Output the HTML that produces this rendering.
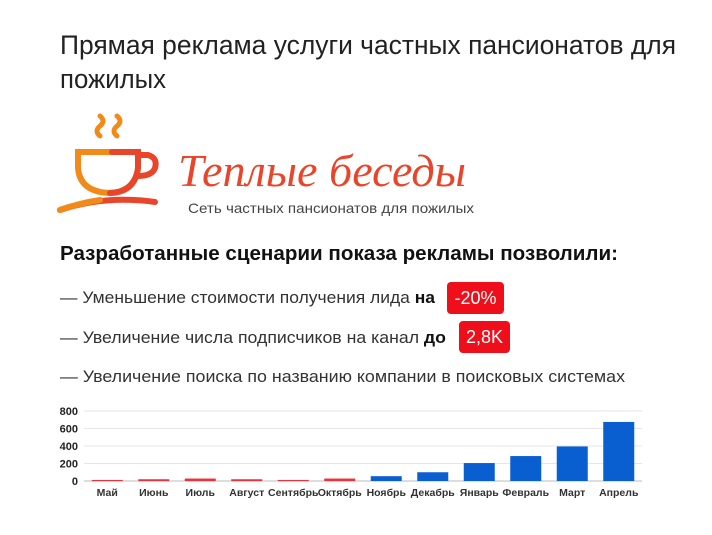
<!DOCTYPE html>
<html><head><meta charset="utf-8"><style>
html,body{margin:0;padding:0;background:#fff;}
svg{display:block;font-family:"Liberation Sans",sans-serif;}
</style></head><body>
<svg width="712" height="535" viewBox="0 0 712 535">
<g fill="#222" font-size="27">
<text x="60" y="54" textLength="616" lengthAdjust="spacingAndGlyphs">Прямая реклама услуги частных пансионатов для</text>
<text x="60" y="88" textLength="106" lengthAdjust="spacingAndGlyphs">пожилых</text>
</g>
<g>
<g fill="none" stroke-linecap="round">
<path d="M100 136 q-6 -5 0 -10 q6 -5 0 -10" stroke="#f28a1a" stroke-width="5"/>
<path d="M117 136 q-6 -5 0 -10 q6 -5 0 -10" stroke="#f28a1a" stroke-width="5"/>
<path d="M78 152 L78 168 Q80 192 110 193 Q135 192 138 168 L138 152 Z" stroke="#f28a1a" stroke-width="6"/>
<path d="M110 193 Q135 192 138 168 L138 152 L112 152" stroke="#e8452a" stroke-width="6"/>
<path d="M138 155 L148 155 Q158 158 155 168 Q152 176 138 176" stroke="#e8452a" stroke-width="6"/>
<path d="M60 210 Q105 195 155 202" stroke="#e8452a" stroke-width="6"/>
<path d="M60 210 Q80 203 100 200" stroke="#f28a1a" stroke-width="6"/>
</g>
<text x="178" y="186" font-family="'Liberation Serif',serif" font-style="italic" font-size="46" fill="#e8452a" textLength="288" lengthAdjust="spacingAndGlyphs">Теплые беседы</text>
<text x="188" y="213" font-size="14" fill="#444" textLength="286" lengthAdjust="spacingAndGlyphs">Сеть частных пансионатов для пожилых</text>
</g>
<text x="60" y="260" font-size="20" font-weight="bold" fill="#111" textLength="558" lengthAdjust="spacingAndGlyphs">Разработанные сценарии показа рекламы позволили:</text>
<g font-size="17" fill="#333">
<text x="60" y="303" textLength="375" lengthAdjust="spacingAndGlyphs">— Уменьшение стоимости получения лида <tspan font-weight="bold" fill="#111">на</tspan></text>
<rect x="447" y="282" width="57" height="32" rx="4" fill="#ee0f1a"/>
<text x="475.5" y="304" text-anchor="middle" font-size="18" fill="#fff">-20%</text>
<text x="60" y="343" textLength="386" lengthAdjust="spacingAndGlyphs">— Увеличение числа подписчиков на канал <tspan font-weight="bold" fill="#111">до</tspan></text>
<rect x="459" y="321" width="51" height="32" rx="4" fill="#ee0f1a"/>
<text x="484.5" y="343" text-anchor="middle" font-size="18" fill="#fff">2,8K</text>
<text x="60" y="382" textLength="565" lengthAdjust="spacingAndGlyphs">— Увеличение поиска по названию компании в поисковых системах</text>
</g>
<g id="chart"></g>
</svg>
<script>
const months=["Май","Июнь","Июль","Август","Сентябрь","Октябрь","Ноябрь","Декабрь","Январь","Февраль","Март","Апрель"];
const values=[12,20,28,20,12,28,55,100,205,285,395,675];
const highlight=[1,1,1,1,1,1,0,0,0,0,0,0];
const yTicks=[0,200,400,600,800];
const NS="http://www.w3.org/2000/svg";
const g=document.getElementById("chart");
const x0=84,x1=642,yBase=481,yTop=411,yMax=800;
const y=v=>yBase-(v/yMax)*(yBase-yTop);
const step=(x1-x0)/months.length;
const xc=i=>x0+step*(i+0.5);
function mk(tag,attrs){const e=document.createElementNS(NS,tag);for(const k in attrs)e.setAttribute(k,attrs[k]);g.appendChild(e);return e;}
yTicks.forEach(t=>{
 const l=mk("line",{x1:x0,x2:x1,y1:y(t),y2:y(t),stroke:t===0?"#bbb":"#e6e6e6","stroke-width":1});
 
 
 const tx=mk("text",{x:78,y:y(t)+4,"text-anchor":"end","font-size":11,"font-weight":"bold",fill:"#222"});
 tx.textContent=t;
 
 
});
months.forEach((m,i)=>{
 const w=31;
 const r=mk("rect",{x:xc(i)-w/2,y:y(values[i]),width:w,height:yBase-y(values[i]),fill:highlight[i]?"#ee3038":"#0a5fd0"});
 
 
 const tx=mk("text",{x:xc(i),y:496,"text-anchor":"middle","font-size":10.5,"font-weight":"bold",fill:"#333"});
 tx.textContent=m;
 
 
});
</script>
</body></html>
